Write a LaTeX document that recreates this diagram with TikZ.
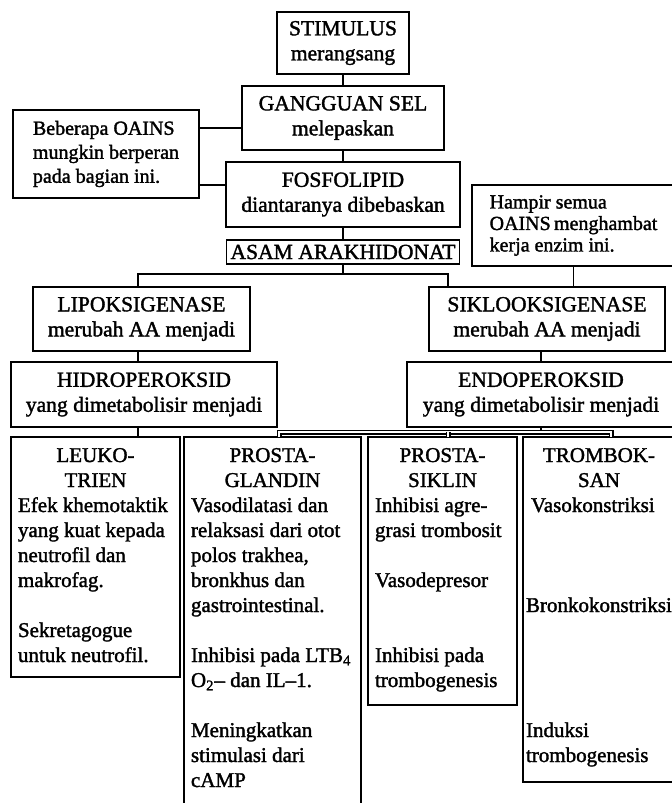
\documentclass[tikz,border=0pt]{standalone}
\usepackage{fontspec}
\setmainfont{Liberation Serif}[FakeBold=1.6]
\usepackage{tikz}
\usetikzlibrary{positioning}

\begin{document}
\begin{tikzpicture}[
    x=0.5pt, y=-0.5pt,
    font=\fontsize{10.5}{12.5}\selectfont,
    box/.style={draw, line width=0.9pt, align=center, inner sep=0pt, outer sep=0pt, font=\fontsize{10.8}{12.5}\selectfont},
    note/.style={box, align=left, font=\fontsize{10}{12}\selectfont},
    col/.style={draw, line width=0.9pt, anchor=north west, inner ysep=0pt, inner xsep=3.5pt, outer sep=0pt},
    link/.style={line width=0.8pt},
    bus/.style={line width=0.7pt, double, double distance=1.1pt}
]
\clip (0,0) rectangle (672,803);

% Top: stimulus chain down to arachidonic acid
\node (stim) [box, minimum width=66pt, minimum height=31pt] at (343,43) {STIMULUS\\merangsang};
\node (gang) [box, minimum width=101pt, minimum height=32pt, below=6pt of stim] {GANGGUAN SEL\\melepaskan};
\node (fos) [box, minimum width=117pt, minimum height=32.5pt, below=6pt of gang] {FOSFOLIPID\\diantaranya dibebaskan};
\node (asam) [box, minimum width=116.5pt, minimum height=12pt, below=6.5pt of fos] {ASAM ARAKHIDONAT};

\draw[link] (stim) -- (gang);
\draw[link] (gang) -- (fos);
\draw[link] (fos) -- (asam);

% Side notes on the drugs
\node (beb) [note, minimum width=93pt, minimum height=44pt] at (106,154) {Beberapa OAINS\\mungkin berperan\\pada bagian ini.};
\node (hampir) [note, minimum width=101.5pt, minimum height=40.5pt, font=\fontsize{10}{10.75}\selectfont] at (573.5,225.5) {Hampir semua\\OAINS\,menghambat\\kerja enzim ini.};

\draw[link] ([yshift=-5pt]gang.west) -- ([yshift=-5pt]gang.west -| beb.east);
\draw[link] ([yshift=4.75pt]fos.west) -- ([yshift=4.75pt]fos.west -| beb.east);

% Enzymes and their products
\node (lipo) [box, minimum width=108.5pt, minimum height=32pt] at (141.5,319) {LIPOKSIGENASE\\merubah AA menjadi};
\node (siklo) [box, minimum width=118pt, minimum height=32pt] at (547,319) {SIKLOOKSIGENASE\\merubah AA menjadi};
\node (hidro) [box, minimum width=133pt, minimum height=32.5pt] at (144,394.5) {HIDROPEROKSID\\yang dimetabolisir menjadi};
\node (endo) [box, minimum width=134pt, minimum height=32.5pt] at (541,394.5) {ENDOPEROKSID\\yang dimetabolisir menjadi};

\coordinate (lx) at (138,0);
\coordinate (rx) at (448,0);
\coordinate (abus) at ([yshift=-5pt]asam.south);

\draw[link] (asam) -- (abus);
\draw[link] (lipo.north -| lx) |- (abus) -| (siklo.north -| rx);
\draw[link] (hampir) -- (hampir.south |- siklo.north);
\draw[link] (lipo.south -| lx) -- (hidro.north -| lx);
\draw[link] (endo.north) -- (endo.north |- siklo.south);

% Bottom: the four end products
\node (leuko) [col] at (11,437) {\parbox[t][120pt][t]{77.5pt}{%
    {\centering\rule{0pt}{12.5pt}LEUKO-\\TRIEN\par}\raggedright
    Efek khemotaktik\\yang kuat kepada\\neutrofil dan\\makrofag.\\[12.5pt]
    Sekretagogue\\untuk neutrofil.}};
\node (glandin) [col] at (184,437) {\parbox[t][191.5pt][t]{81.5pt}{%
    {\centering\rule{0pt}{12.5pt}PROSTA-\\GLANDIN\par}\raggedright
    Vasodilatasi dan\\relaksasi dari otot\\polos trakhea,\\bronkhus dan\\gastrointestinal.\\[12.5pt]
    \mbox{Inhibisi pada LTB\textsubscript{4}}\\O\textsubscript{2}– dan IL–1.\\[12.5pt]
    Meningkatkan\\stimulasi dari\\cAMP}};
\node (siklin) [col] at (368,437) {\parbox[t][134pt][t]{67.5pt}{%
    {\centering\rule{0pt}{12.5pt}PROSTA-\\SIKLIN\par}\raggedright
    Inhibisi agre-\\grasi trombosit\\[12.5pt]
    Vasodepresor\\[25pt]
    Inhibisi pada\\trombogenesis}};
\node (tromb) [col, inner xsep=1.5pt] at (523,437) {\parbox[t][172.5pt][t]{73pt}{%
    {\centering\rule{0pt}{12.5pt}TROMBOK-\\SAN\par}\raggedright
    \hspace*{2.5pt}Vasokonstriksi\\[37.5pt]
    \mbox{Bronkokonstriksi}\\[50pt]
    Induksi\\trombogenesis}};

\coordinate (ebus) at ([yshift=-2.5pt]endo.south);

\draw[link] (hidro.south -| lx) -- (leuko.north -| lx);
\draw[link] (endo) -- (ebus);
\draw[bus] ([xshift=3.25pt]glandin.north) |- (ebus) -| ([xshift=6pt]tromb.north);
\draw[bus] ([xshift=2.75pt]siklin.north) -- ([xshift=2.75pt]siklin.north |- ebus);

\end{tikzpicture}
\end{document}
